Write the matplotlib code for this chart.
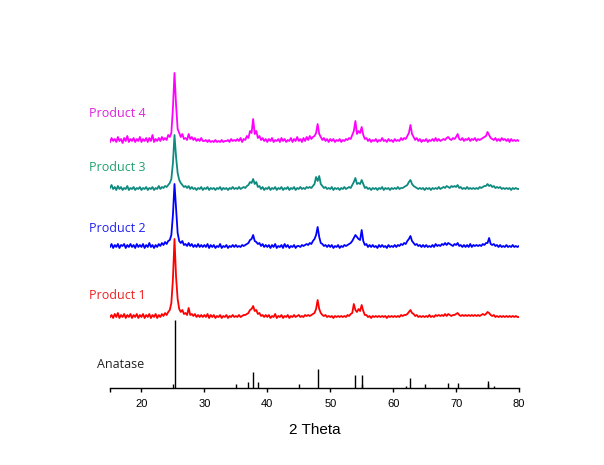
import numpy as np
import matplotlib
matplotlib.use('agg')
import matplotlib.pyplot as plt

# 2 theta grid, 15 to 80 deg in 0.25 deg steps
two_theta = 15 + 0.25 * np.arange(261)

# intensities (arbitrary units), one row = 5 deg
product1 = [2,4,1,5,2,6,1,4,2,5,1,4,2,5,1,4,2,5,1,4,
            2,5,1,4,2,5,1,4,2,5,1,4,2,5,3,6,4,7,9,16,
            40,80,42,20,10,7,9,5,6,4,11,4,5,3,5,2,4,2,4,2,
            4,2,5,1,4,2,4,1,3,2,4,1,3,2,4,1,3,2,4,2,
            3,2,4,2,3,4,4,5,6,9,10,13,8,9,5,6,3,4,2,4,
            2,4,1,3,2,5,1,3,2,4,1,3,2,4,1,3,2,4,2,3,
            4,2,3,2,4,3,4,3,4,5,6,10,19,10,6,4,3,4,2,3,
            2,3,1,3,2,3,2,3,2,3,2,4,3,5,6,15,9,7,10,8,
            14,8,4,4,2,3,1,3,2,3,2,3,2,3,2,3,1,3,2,3,
            2,3,2,3,2,4,3,4,4,5,7,9,6,5,3,4,2,3,2,3,
            2,3,2,4,2,3,2,4,3,4,3,4,3,5,3,5,4,3,4,4,
            5,6,4,3,4,3,4,3,4,3,4,3,4,3,4,3,4,5,4,5,
            7,6,4,3,4,2,3,2,3,2,3,2,3,2,3,2,3,2,3,2,
            2]
product2 = [2,5,1,4,2,5,1,4,3,5,1,4,2,5,2,4,1,5,2,4,
            2,5,1,4,2,6,2,4,1,4,2,5,3,6,4,7,5,8,9,14,
            34,65,40,16,8,6,8,4,5,3,6,3,5,2,4,2,5,2,4,2,
            4,2,5,1,4,2,4,1,3,2,5,1,3,2,4,1,3,2,4,2,
            4,2,3,2,4,3,4,5,6,9,10,14,8,7,5,6,3,5,2,4,
            2,4,1,4,2,5,1,3,2,4,1,5,2,4,1,3,2,4,1,3,
            3,2,4,3,4,5,4,6,5,8,10,14,22,12,6,5,3,4,2,4,
            2,4,1,3,2,4,1,3,2,4,3,4,5,6,8,11,14,12,10,9,
            19,8,4,5,2,4,2,4,2,3,1,4,2,4,2,3,1,4,2,3,
            2,4,2,4,3,5,4,6,5,8,10,13,8,6,4,5,3,4,2,4,
            2,4,2,3,2,4,2,5,3,4,3,5,4,6,4,6,5,4,3,5,
            4,6,3,4,2,4,2,4,2,5,2,4,3,4,3,4,3,5,4,6,
            6,11,5,4,5,3,4,2,4,2,3,2,4,2,3,2,4,2,3,2,
            3]
product3 = [3,6,2,4,1,5,2,4,1,3,2,5,1,3,2,4,1,3,2,4,
            1,3,2,4,1,3,2,4,1,3,2,5,2,4,3,5,4,6,8,12,
            28,56,34,18,11,8,6,4,5,3,5,2,4,2,3,1,3,2,4,1,
            3,2,4,1,3,2,3,1,3,2,4,1,3,2,3,1,3,2,4,2,
            3,2,4,2,3,4,3,5,6,9,8,12,7,9,4,5,2,4,1,3,
            2,4,1,3,2,4,1,3,2,4,1,3,2,4,1,3,2,4,1,3,
            2,4,2,3,2,4,3,4,3,5,7,14,10,15,7,5,3,4,2,3,
            2,4,1,3,2,3,1,3,2,4,2,3,4,3,6,9,13,7,8,7,
            11,7,3,4,2,3,1,3,2,3,1,3,2,4,1,3,2,3,1,3,
            2,3,2,4,2,3,3,4,5,6,9,11,7,5,4,3,2,3,2,3,
            1,3,2,3,1,3,2,3,2,4,2,3,4,3,5,4,3,5,4,5,
            4,6,3,4,2,3,2,4,2,3,2,3,2,3,2,4,3,4,5,5,
            7,5,6,4,5,3,4,3,4,2,3,2,3,2,3,1,3,2,3,2,
            2]
product4 = [1,5,2,4,1,6,2,4,0,5,2,7,1,4,2,5,1,4,2,6,
            1,4,2,5,1,5,2,8,1,4,2,5,2,6,3,5,3,8,6,10,
            35,70,38,14,10,6,9,4,5,3,9,4,6,3,5,2,4,2,5,2,
            2,3,1,3,1,2,1,3,1,2,1,3,1,2,2,3,1,4,2,3,
            2,4,2,5,1,4,3,7,5,12,10,24,9,12,5,7,3,5,2,4,
            1,4,2,5,1,3,2,4,1,5,2,4,1,3,2,5,1,4,2,6,
            2,4,1,5,2,6,3,7,4,6,7,10,19,9,6,3,5,2,4,1,
            4,2,4,1,3,2,4,1,3,2,4,3,5,4,8,12,22,9,12,10,
            16,8,4,5,2,4,1,3,2,4,1,3,2,5,2,3,1,4,2,3,
            1,4,2,3,2,5,3,5,4,7,10,18,9,6,3,5,2,4,1,3,
            2,4,1,3,2,4,2,5,2,4,2,3,4,3,5,6,4,3,5,4,
            6,9,4,3,5,2,4,3,5,2,4,3,5,2,4,3,4,5,6,7,
            11,8,5,4,3,5,2,4,2,5,3,4,2,4,1,4,2,3,2,3,
            2]

# anatase reference sticks
anatase_pos = [25.28, 36.95, 37.80, 38.58, 48.05, 53.89, 55.06, 62.12, 62.69,
               68.76, 70.31, 75.03, 76.02]
anatase_int = [68, 5.6, 15.6, 5.6, 19, 13, 13, 1.7, 9.6, 5, 5, 6.7, 2.3]

names = ['Product 1', 'Product 2', 'Product 3', 'Product 4']
offsets = [69, 139, 197, 245]
line_colors = ['#FF0000', '#0000FF', '#0E8A80', '#FF00FF']
text_colors = ['#F02020', '#2020F0', '#20A070', '#E020E0']
label_y = [93, 160, 221, 275]

fig = plt.figure(figsize=(6.04, 4.65), dpi=100)
ax = fig.add_axes([110/604, 77/465, 409/604, 328/465])

ax.vlines(anatase_pos, 0, anatase_int, color='black', lw=1.0)
ax.text(12.93, 24, 'Anatase', fontsize=9, family='Open Sans', color='#222222',
        va='center', ha='left', clip_on=False)

series = [product1, product2, product3, product4]
for i in range(4):
    y = np.array(series[i]) + offsets[i]
    ax.plot(two_theta, y, color=line_colors[i], lw=1.3)
    ax.text(11.66, label_y[i], names[i], fontsize=9, family='Open Sans',
            color=text_colors[i], va='center', ha='left', clip_on=False)

ax.set_xlim(15, 80)
ax.set_ylim(0, 328)
for s in ['top', 'right', 'left']:
    ax.spines[s].set_visible(False)
ax.spines['bottom'].set_linewidth(1.0)
ax.set_yticks([])

ax.set_xticks([15, 20, 30, 40, 50, 60, 70, 80])
ax.set_xticklabels(['', '20', '30', '40', '50', '60', '70', '80'],
                   family='Liberation Sans', fontsize=8)
ax.set_xticks([25, 35, 45, 55, 65, 75], minor=True)
ax.tick_params(axis='x', which='major', direction='out', length=3, width=1, pad=5)
ax.tick_params(axis='x', which='minor', direction='in', length=3, width=1)
ax.set_xlabel('2 Theta', family='Liberation Sans', fontsize=11, labelpad=10)

fig.savefig('out.png', dpi=100)
